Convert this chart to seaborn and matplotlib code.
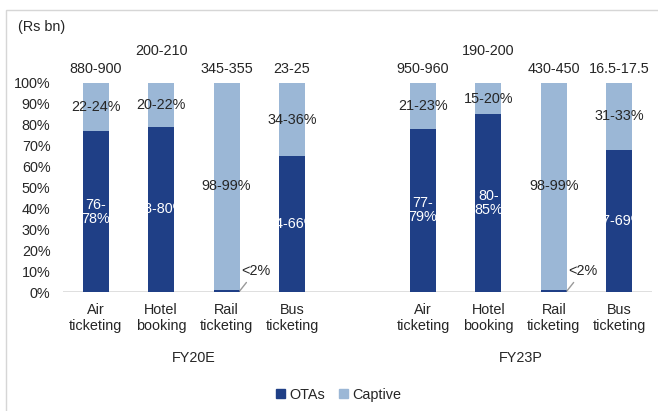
import pandas as pd
import matplotlib.pyplot as plt
import seaborn as sns
from matplotlib.patches import Patch, Rectangle

# ---------------- datos ----------------
years = ['FY20E', 'FY23P']
segments = ['Air\nticketing', 'Hotel\nbooking', 'Rail\nticketing', 'Bus\nticketing']
ota_share = [0.77, 0.79, 0.01, 0.65, 0.78, 0.85, 0.01, 0.68]
ota_labels = ['76-\n78%', '78-80%', '<2%', '64-66%', '77-\n79%', '80-\n85%', '<2%', '67-69%']
captive_labels = ['22-24%', '20-22%', '98-99%', '34-36%', '21-23%', '15-20%', '98-99%', '31-33%']
size_labels = ['880-900', '200-210', '345-355', '23-25', '950-960', '190-200', '430-450', '16.5-17.5']

dark = '#1f3f86'
light = '#9bb7d6'
txt = '#262626'

# ---------------- tabla ----------------
slots = [f'{y}|{s}' for y in years for s in segments]
df = pd.DataFrame({'slot': slots, 'OTAs': ota_share, 'total': [1.0] * len(slots)})
order = slots[:4] + ['gap'] + slots[4:]

sns.set_style('white')
plt.rcParams['font.family'] = ['Liberation Sans', 'DejaVu Sans']
plt.rcParams['font.size'] = 10.4

fig = plt.figure(figsize=(6.58, 4.11), dpi=100)
ax = fig.add_axes([63 / 658, 119 / 411, 589 / 658, 209 / 411])

sns.barplot(data=df, x='slot', y='total', order=order, color=light, width=0.4,
            saturation=1, linewidth=0, ax=ax)
sns.barplot(data=df, x='slot', y='OTAs', order=order, color=dark, width=0.4,
            saturation=1, linewidth=0, ax=ax)

ax.set_xlim(-0.5, 8.5)
ax.set_ylim(0, 1)
ax.set_yticks([i / 10 for i in range(11)])
ax.set_yticklabels([f'{i * 10}%' for i in range(11)], color=txt)
ax.set_xticks(range(9))
ax.set_xticklabels(segments + [''] + segments, color=txt)
ax.tick_params(axis='both', length=0)
ax.tick_params(axis='x', pad=8)
ax.tick_params(axis='y', pad=9)
ax.set_xlabel('')
ax.set_ylabel('')
for s in ax.spines.values():
    s.set_visible(False)
ax.axhline(0, color='#d9d9d9', lw=1.2, zorder=0)

# etiquetas
pos = [order.index(s) for s in slots]
for i, x in enumerate(pos):
    ota = ota_share[i]
    ax.text(x, (ota + 1) / 2, captive_labels[i], ha='center', va='center', color=txt)
    top_y = 1.155 if i % 4 == 1 else 1.065
    ax.text(x, top_y, size_labels[i], ha='center', va='center', color=txt, clip_on=False)
    if ota > 0.05:
        ax.text(x, ota / 2, ota_labels[i], ha='center', va='center', color='white', linespacing=1.0)
    else:
        ax.annotate(ota_labels[i], xy=(x + 0.2, 0.005), xytext=(x + 0.44, 0.1),
                    ha='center', va='center', color=txt,
                    arrowprops=dict(arrowstyle='-', color='#9a9a9a', lw=1, shrinkA=1, shrinkB=0))

for j, y in enumerate(years):
    ax.text(j * 5 + 1.5, -0.316, y, ha='center', va='center', color=txt,
            transform=ax.get_xaxis_transform())

fig.text(18 / 658, 1 - 27 / 411, '(Rs bn)', ha='left', va='center', color=txt)

handles = [Patch(color=dark, label='OTAs'), Patch(color=light, label='Captive')]
fig.legend(handles=handles, loc='center', bbox_to_anchor=(0.515, 16 / 411), ncol=2,
           frameon=False, handlelength=0.6, handleheight=0.6, handletextpad=0.3,
           columnspacing=1.0, fontsize=10.4, labelcolor=txt)

fig.patches.append(Rectangle((6 / 658, -0.01), 1.0, 1 - 10 / 411 + 0.01, transform=fig.transFigure,
                             fill=False, edgecolor='#d6d6d6', lw=1))

fig.savefig('out.png', dpi=100)
